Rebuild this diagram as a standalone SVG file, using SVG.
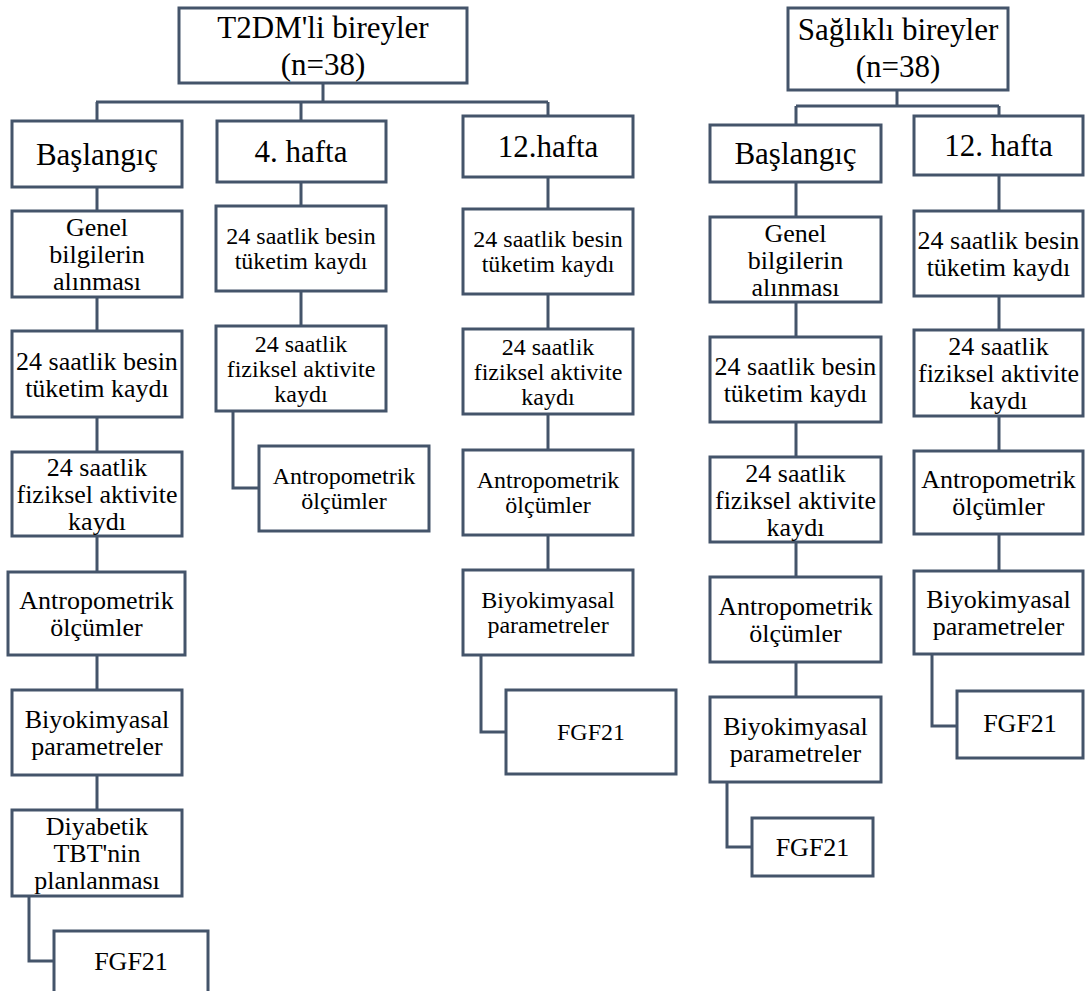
<svg xmlns="http://www.w3.org/2000/svg" width="1085" height="991" viewBox="0 0 1085 991">
<style>
rect{fill:#fff;stroke:#44546A;stroke-width:3}
.c path{fill:none;stroke:#44546A;stroke-width:3}
text{font-family:'Liberation Serif','Tinos','Times New Roman','DejaVu Serif',serif;fill:#000;text-anchor:middle}
.h{font-size:31px}
.a{font-size:26px}
.b{font-size:24px}
</style>
<rect width="1085" height="991" style="fill:#fff;stroke:none"/>
<g class="c" id="connectors">
<path d="M323 83V102M96 102H548M97 102V121M301 102V121M548 102V116"/>
<path d="M97 187V211M97 297V331M97 417V452M97 536V572M97 655V690M97 775V810M29 896V961H54"/>
<path d="M301 182V206M301 291V326M233 411V488H259"/>
<path d="M548 177V209M548 294V329M548 414V450M548 535V570M481 655V732H506"/>
<path d="M897 90V106M796 106H999M796 106V125M999 106V116"/>
<path d="M796 182V217M796 302V337M796 422V457M796 542V577M796 662V697M727 782V847H752"/>
<path d="M999 175V211M999 296V330M999 416V451M999 534V571M932 654V726H957"/>
</g>
<g id="t2dm"><rect x="179" y="8" width="288" height="75"/><text class="h" x="323" y="38">T2DM'li bireyler</text><text class="h" x="323" y="75">(n=38)</text></g>
<g id="l-bas"><rect x="12" y="121" width="170" height="66"/><text class="h" x="97" y="165">Başlangıç</text></g>
<g id="l-4h"><rect x="217" y="121" width="169" height="61"/><text class="h" x="301" y="162">4. hafta</text></g>
<g id="l-12h"><rect x="463" y="116" width="170" height="61"/><text class="h" x="548" y="157">12.hafta</text></g>
<g id="l-genel"><rect x="12" y="211" width="170" height="86"/><text class="a" x="97" y="236">Genel</text><text class="a" x="97" y="263">bilgilerin</text><text class="a" x="97" y="290">alınması</text></g>
<g id="l-besin"><rect x="12" y="331" width="170" height="86"/><text class="a" x="97" y="369.5">24 saatlik besin</text><text class="a" x="97" y="396.5">tüketim kaydı</text></g>
<g id="l-fiz"><rect x="12" y="452" width="170" height="84"/><text class="a" x="97" y="476">24 saatlik</text><text class="a" x="97" y="503">fiziksel aktivite</text><text class="a" x="97" y="530">kaydı</text></g>
<g id="l-antro"><rect x="8" y="572" width="177" height="83"/><text class="a" x="96.5" y="609">Antropometrik</text><text class="a" x="96.5" y="636">ölçümler</text></g>
<g id="l-biyo"><rect x="12" y="690" width="170" height="85"/><text class="a" x="97" y="728">Biyokimyasal</text><text class="a" x="97" y="755">parametreler</text></g>
<g id="l-diy"><rect x="12" y="810" width="170" height="86"/><text class="a" x="97" y="835">Diyabetik</text><text class="a" x="97" y="862">TBT'nin</text><text class="a" x="97" y="889">planlanması</text></g>
<g id="l-fgf"><rect x="54" y="931" width="154" height="72"/><text class="a" x="131" y="970">FGF21</text></g>
<g id="w4-besin"><rect x="216" y="206" width="170" height="85"/><text class="b" x="301" y="244">24 saatlik besin</text><text class="b" x="301" y="269">tüketim kaydı</text></g>
<g id="w4-fiz"><rect x="216" y="326" width="170" height="85"/><text class="b" x="301" y="351.5">24 saatlik</text><text class="b" x="301" y="376.5">fiziksel aktivite</text><text class="b" x="301" y="401.5">kaydı</text></g>
<g id="w4-antro"><rect x="259" y="446" width="170" height="85"/><text class="b" x="344" y="484">Antropometrik</text><text class="b" x="344" y="509">ölçümler</text></g>
<g id="w12-besin"><rect x="463" y="209" width="170" height="85"/><text class="b" x="548" y="247">24 saatlik besin</text><text class="b" x="548" y="272">tüketim kaydı</text></g>
<g id="w12-fiz"><rect x="463" y="329" width="170" height="85"/><text class="b" x="548" y="354.5">24 saatlik</text><text class="b" x="548" y="379.5">fiziksel aktivite</text><text class="b" x="548" y="404.5">kaydı</text></g>
<g id="w12-antro"><rect x="463" y="450" width="170" height="85"/><text class="b" x="548" y="488">Antropometrik</text><text class="b" x="548" y="513">ölçümler</text></g>
<g id="w12-biyo"><rect x="463" y="570" width="170" height="85"/><text class="b" x="548" y="608">Biyokimyasal</text><text class="b" x="548" y="633">parametreler</text></g>
<g id="w12-fgf"><rect x="506" y="690" width="170" height="84"/><text class="b" x="591" y="740">FGF21</text></g>
<g id="saglikli"><rect x="788" y="8" width="220" height="82"/><text class="h" x="898" y="40">Sağlıklı bireyler</text><text class="h" x="898" y="77">(n=38)</text></g>
<g id="r-bas"><rect x="710" y="125" width="171" height="57"/><text class="h" x="795.5" y="164">Başlangıç</text></g>
<g id="r-12h"><rect x="914" y="116" width="169" height="59"/><text class="h" x="998.5" y="156">12. hafta</text></g>
<g id="r-genel"><rect x="710" y="217" width="171" height="85"/><text class="a" x="795.5" y="241.5">Genel</text><text class="a" x="795.5" y="268.5">bilgilerin</text><text class="a" x="795.5" y="295.5">alınması</text></g>
<g id="r-besin"><rect x="710" y="337" width="171" height="85"/><text class="a" x="795.5" y="375">24 saatlik besin</text><text class="a" x="795.5" y="402">tüketim kaydı</text></g>
<g id="r-fiz"><rect x="710" y="457" width="171" height="85"/><text class="a" x="795.5" y="481.5">24 saatlik</text><text class="a" x="795.5" y="508.5">fiziksel aktivite</text><text class="a" x="795.5" y="535.5">kaydı</text></g>
<g id="r-antro"><rect x="710" y="577" width="171" height="85"/><text class="a" x="795.5" y="615">Antropometrik</text><text class="a" x="795.5" y="642">ölçümler</text></g>
<g id="r-biyo"><rect x="710" y="697" width="171" height="85"/><text class="a" x="795.5" y="735">Biyokimyasal</text><text class="a" x="795.5" y="762">parametreler</text></g>
<g id="r-fgf"><rect x="752" y="818" width="121" height="58"/><text class="a" x="812.5" y="856">FGF21</text></g>
<g id="h12-besin"><rect x="914" y="211" width="169" height="85"/><text class="a" x="998.5" y="249">24 saatlik besin</text><text class="a" x="998.5" y="276">tüketim kaydı</text></g>
<g id="h12-fiz"><rect x="914" y="330" width="169" height="86"/><text class="a" x="998.5" y="355">24 saatlik</text><text class="a" x="998.5" y="382">fiziksel aktivite</text><text class="a" x="998.5" y="409">kaydı</text></g>
<g id="h12-antro"><rect x="914" y="451" width="169" height="83"/><text class="a" x="998.5" y="488">Antropometrik</text><text class="a" x="998.5" y="515">ölçümler</text></g>
<g id="h12-biyo"><rect x="914" y="571" width="169" height="83"/><text class="a" x="998.5" y="608">Biyokimyasal</text><text class="a" x="998.5" y="635">parametreler</text></g>
<g id="h12-fgf"><rect x="957" y="691" width="126" height="67"/><text class="a" x="1020" y="732">FGF21</text></g>
</svg>
